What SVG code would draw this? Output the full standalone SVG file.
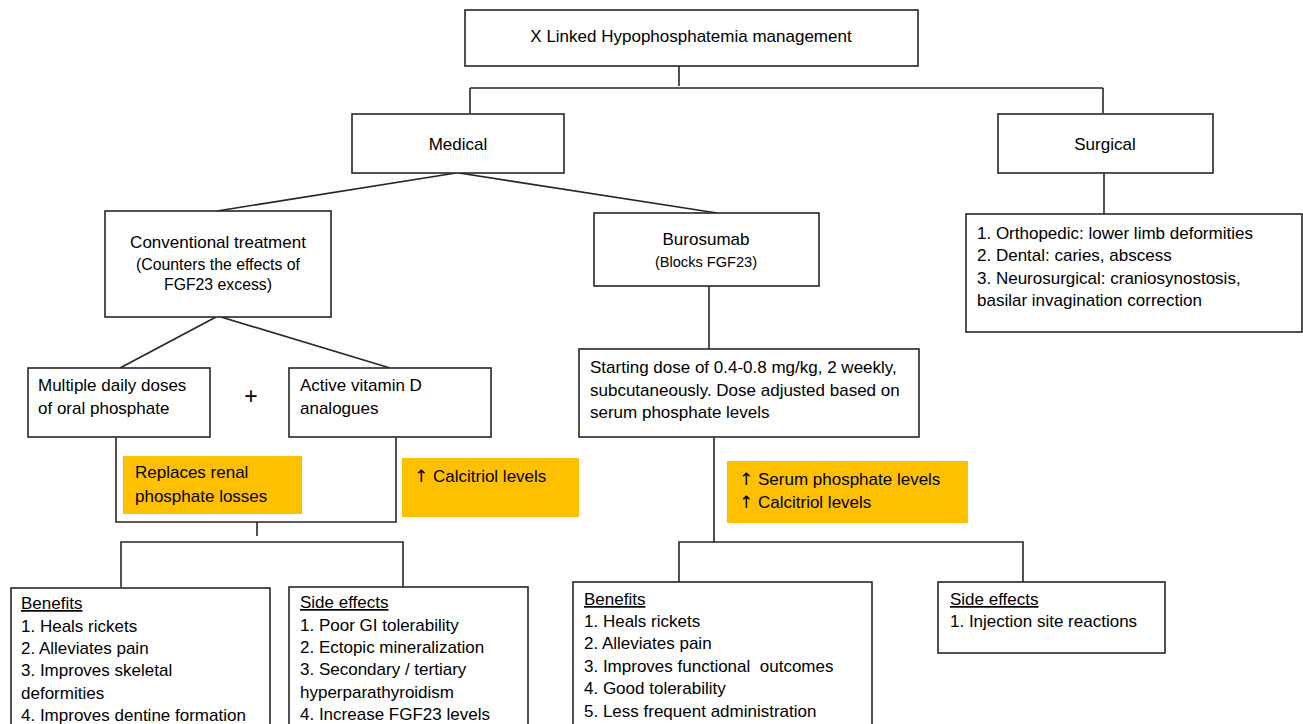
<svg xmlns="http://www.w3.org/2000/svg" width="1303" height="724" viewBox="0 0 1303 724">
<style>
.box{fill:#fff;stroke:#262626;stroke-width:1.6}
.hl{fill:#FFC000;stroke:none}
.ln{fill:none;stroke:#262626;stroke-width:1.6}
text{font-family:"Liberation Sans",Arial,sans-serif;font-size:17px;fill:#000}
.c{text-anchor:middle}
.u{text-decoration:underline}
.ar{font-family:"DejaVu Sans",sans-serif;font-size:17px}
</style>
<rect width="1303" height="724" fill="#fff"/>
<g id="connectors">
<path class="ln" d="M679,66 V86 M470,88 H1103 M470,88 V113 M1103,88 V113"/>
<path class="ln" d="M456,173 L217,211 M459,173 L717,213"/>
<path class="ln" d="M1104,173 V214"/>
<path class="ln" d="M709,286 V349"/>
<path class="ln" d="M216,317 L120,368 M221,317 L390,368"/>
<path class="ln" d="M116,437 V522 H396 V437"/>
<path class="ln" d="M257,522 V536"/>
<path class="ln" d="M121,587 V542 H403 V587"/>
<path class="ln" d="M714,437 V542 M679,582 V542 H1023 V582"/>
</g>
<g id="root">
<rect class="box" x="465" y="10" width="453" height="56"/>
<text class="c" x="691" y="42">X Linked Hypophosphatemia management</text>
</g>
<g id="medical">
<rect class="box" x="352" y="114" width="212" height="59"/>
<text class="c" x="458" y="150">Medical</text>
</g>
<g id="surgical">
<rect class="box" x="998" y="114" width="215" height="59"/>
<text class="c" x="1105" y="150">Surgical</text>
</g>
<g id="surgical-list">
<rect class="box" x="966" y="214" width="336" height="118"/>
<text x="977" y="239">1. Orthopedic: lower limb deformities</text>
<text x="977" y="261">2. Dental: caries, abscess</text>
<text x="977" y="284">3. Neurosurgical: craniosynostosis,</text>
<text x="977" y="306">basilar invagination correction</text>
</g>
<g id="conventional">
<rect class="box" x="105" y="211" width="226" height="106"/>
<text class="c" x="218" y="248">Conventional treatment</text>
<text class="c" x="218" y="270" style="font-size:15.8px">(Counters the effects of</text>
<text class="c" x="218" y="290" style="font-size:15.8px">FGF23 excess)</text>
</g>
<g id="burosumab">
<rect class="box" x="594" y="213" width="225" height="73"/>
<text class="c" x="706" y="245">Burosumab</text>
<text class="c" x="706" y="267" style="font-size:14.6px">(Blocks FGF23)</text>
</g>
<g id="dose">
<rect class="box" x="579" y="349" width="340" height="88"/>
<text x="590" y="373">Starting dose of 0.4-0.8 mg/kg, 2 weekly,</text>
<text x="590" y="396">subcutaneously. Dose adjusted based on</text>
<text x="590" y="418">serum phosphate levels</text>
</g>
<g id="oral-phosphate">
<rect class="box" x="28" y="368" width="182" height="69"/>
<text x="38" y="391">Multiple daily doses</text>
<text x="38" y="414">of oral phosphate</text>
</g>
<g id="plus">
<text class="c" x="251" y="404" style="font-size:23px">+</text>
</g>
<g id="vitamin-d">
<rect class="box" x="289" y="368" width="202" height="69"/>
<text x="300" y="391">Active vitamin D</text>
<text x="300" y="414">analogues</text>
</g>
<g id="note-phosphate">
<rect class="hl" x="123" y="456" width="179" height="58"/>
<text x="135" y="478">Replaces renal</text>
<text x="135" y="502">phosphate losses</text>
</g>
<g id="note-calcitriol">
<rect class="hl" x="402" y="458" width="177" height="59"/>
<text x="414" y="482"><tspan class="ar">↑</tspan> Calcitriol levels</text>
</g>
<g id="note-burosumab">
<rect class="hl" x="727" y="461" width="241" height="62"/>
<text x="739" y="485"><tspan class="ar">↑</tspan> Serum phosphate levels</text>
<text x="739" y="508"><tspan class="ar">↑</tspan> Calcitriol levels</text>
</g>
<g id="conv-benefits">
<rect class="box" x="11" y="588" width="259" height="150"/>
<text class="u" x="21" y="609">Benefits</text>
<text x="21" y="632">1. Heals rickets</text>
<text x="21" y="654">2. Alleviates pain</text>
<text x="21" y="676">3. Improves skeletal</text>
<text x="21" y="699">deformities</text>
<text x="21" y="721">4. Improves dentine formation</text>
</g>
<g id="conv-side-effects">
<rect class="box" x="289" y="587" width="239" height="150"/>
<text class="u" x="300" y="608">Side effects</text>
<text x="300" y="631">1. Poor GI tolerability</text>
<text x="300" y="653">2. Ectopic mineralization</text>
<text x="300" y="675">3. Secondary / tertiary</text>
<text x="300" y="698">hyperparathyroidism</text>
<text x="300" y="720">4. Increase FGF23 levels</text>
</g>
<g id="buro-benefits">
<rect class="box" x="573" y="582" width="299" height="156"/>
<text class="u" x="584" y="605">Benefits</text>
<text x="584" y="627">1. Heals rickets</text>
<text x="584" y="649">2. Alleviates pain</text>
<text x="584" y="672" style="white-space:pre">3. Improves functional  outcomes</text>
<text x="584" y="694">4. Good tolerability</text>
<text x="584" y="717">5. Less frequent administration</text>
</g>
<g id="buro-side-effects">
<rect class="box" x="938" y="582" width="227" height="71"/>
<text class="u" x="950" y="605">Side effects</text>
<text x="950" y="627">1. Injection site reactions</text>
</g>
</svg>
